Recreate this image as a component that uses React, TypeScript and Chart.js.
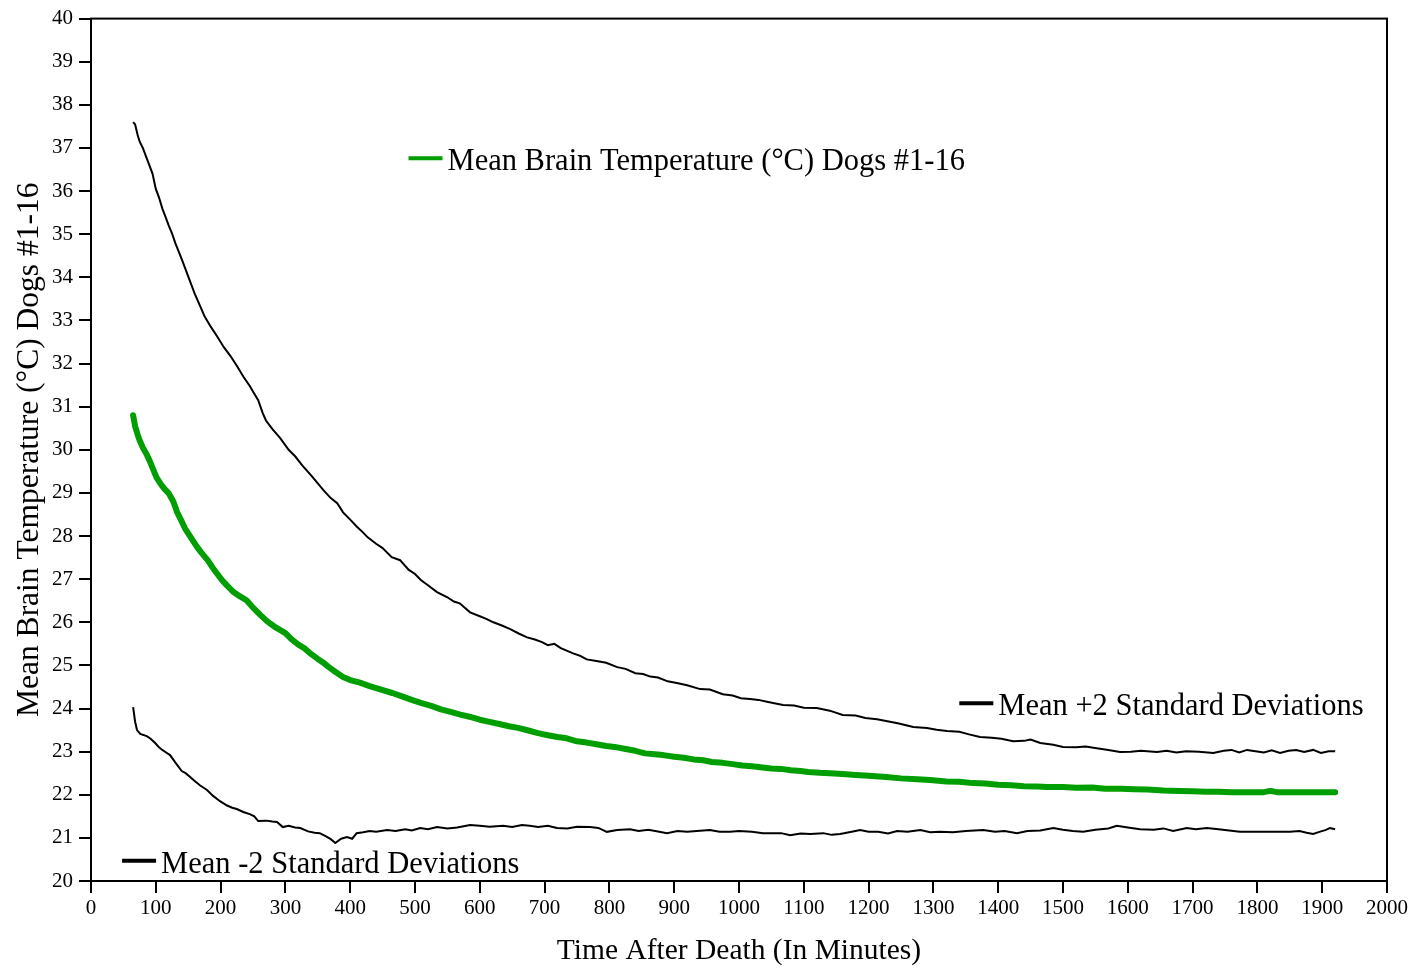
import React, { useEffect, useRef } from "react";
import { Chart, registerables } from "chart.js";

Chart.register(...registerables);

// ---- Data ----
const xTicks = [0, 2000]; // x-axis range (min, max), step 100
const yTicks = [20, 40]; // y-axis range (min, max), step 1

const timeUpper = [65,68,72,75,80,85,90,95,100,105,110,115,120,125,130,140,150,160,170,175,185,195,205,215,225,235,245,252,258,265,270,280,292,305,315,326,340,350,359,370,380,389,400,410,420,427,440,450,464,477,490,500,509,520,534,550,560,569,585,600,610,621,635,647,660,673,685,696,705,715,725,744,755,765,780,795,812,825,840,852,863,875,890,904,920,940,955,975,990,1003,1017,1030,1045,1068,1085,1100,1120,1140,1160,1180,1195,1213,1227,1245,1269,1290,1305,1321,1340,1355,1372,1390,1405,1423,1440,1450,1465,1485,1500,1520,1535,1552,1570,1588,1605,1620,1645,1660,1675,1690,1710,1732,1748,1760,1772,1784,1797,1810,1822,1835,1848,1860,1872,1886,1898,1910,1920];
const upperTemp = [37.6,37.55,37.3,37.15,37.0,36.8,36.6,36.4,36.05,35.85,35.6,35.4,35.2,35.02,34.8,34.42,34.02,33.62,33.28,33.1,32.85,32.62,32.38,32.18,31.95,31.7,31.48,31.3,31.15,30.85,30.68,30.48,30.27,30.0,29.85,29.64,29.4,29.22,29.06,28.88,28.76,28.55,28.38,28.22,28.08,27.97,27.82,27.72,27.51,27.44,27.22,27.12,26.98,26.86,26.7,26.58,26.48,26.44,26.23,26.14,26.08,26.0,25.92,25.84,25.74,25.65,25.6,25.54,25.47,25.5,25.4,25.28,25.22,25.14,25.1,25.06,24.96,24.92,24.82,24.8,24.74,24.72,24.63,24.59,24.54,24.45,24.44,24.33,24.3,24.24,24.22,24.2,24.15,24.08,24.07,24.02,24.01,23.95,23.85,23.84,23.78,23.75,23.71,23.66,23.57,23.55,23.51,23.48,23.46,23.4,23.34,23.32,23.3,23.24,23.25,23.28,23.2,23.16,23.11,23.1,23.12,23.08,23.04,22.99,23.0,23.02,22.99,23.02,22.98,23.01,23.0,22.97,23.02,23.04,22.98,23.04,23.01,22.98,23.03,22.97,23.02,23.04,22.99,23.04,22.97,23.01,23.01];

const timeMean = [65,68,72,75,80,85,90,95,101,107,113,120,127,133,139,145,151,157,163,170,180,188,195,202,210,220,230,240,250,262,272,285,300,310,320,329,340,350,358,367,378,389,400,415,430,449,465,480,495,509,525,540,555,570,584,600,615,630,645,659,675,690,705,720,734,750,765,780,795,808,825,840,855,870,883,900,915,930,945,958,975,990,1005,1020,1033,1050,1065,1080,1095,1107,1125,1140,1160,1180,1200,1227,1250,1275,1295,1320,1340,1361,1380,1400,1420,1440,1460,1475,1500,1520,1545,1565,1590,1610,1630,1655,1681,1700,1720,1740,1760,1784,1810,1820,1830,1860,1890,1920];
const meanTemp = [30.8,30.55,30.35,30.22,30.05,29.92,29.76,29.58,29.36,29.22,29.1,28.99,28.8,28.55,28.37,28.18,28.04,27.9,27.76,27.62,27.44,27.26,27.12,26.98,26.85,26.7,26.6,26.51,26.34,26.16,26.02,25.88,25.75,25.6,25.48,25.4,25.26,25.15,25.07,24.96,24.84,24.73,24.66,24.6,24.52,24.43,24.36,24.28,24.2,24.13,24.06,23.98,23.92,23.86,23.81,23.74,23.69,23.64,23.59,23.55,23.49,23.43,23.38,23.34,23.31,23.24,23.21,23.17,23.13,23.11,23.06,23.02,22.96,22.94,22.92,22.88,22.86,22.82,22.8,22.76,22.74,22.71,22.68,22.66,22.64,22.61,22.6,22.57,22.55,22.53,22.51,22.5,22.48,22.46,22.44,22.41,22.38,22.36,22.34,22.31,22.3,22.27,22.26,22.23,22.22,22.2,22.19,22.18,22.18,22.16,22.17,22.14,22.14,22.13,22.12,22.1,22.09,22.08,22.07,22.07,22.06,22.06,22.06,22.09,22.06,22.06,22.06,22.06];

const timeLower = [65,68,71,76,86,92,99,105,110,116,122,130,140,146,153,160,168,179,188,199,210,218,225,235,245,252,258,270,280,287,296,305,315,323,335,345,353,362,370,377,386,395,403,410,420,430,440,457,470,485,495,508,520,534,550,565,585,600,615,636,650,665,677,690,705,719,735,750,770,783,796,812,832,845,860,875,889,905,920,935,955,970,986,1000,1020,1037,1050,1065,1079,1095,1110,1130,1143,1156,1170,1187,1200,1215,1230,1244,1260,1280,1295,1310,1330,1350,1377,1395,1410,1429,1445,1465,1485,1500,1515,1531,1550,1570,1583,1600,1619,1640,1655,1670,1691,1705,1722,1740,1773,1799,1830,1850,1865,1876,1886,1898,1905,1912,1920];
const lowerTemp = [24.03,23.7,23.5,23.41,23.36,23.3,23.2,23.1,23.04,22.98,22.92,22.75,22.55,22.5,22.41,22.32,22.22,22.11,21.98,21.85,21.75,21.7,21.67,21.6,21.55,21.5,21.39,21.4,21.38,21.37,21.25,21.28,21.24,21.23,21.15,21.12,21.11,21.04,20.97,20.88,20.98,21.02,20.98,21.11,21.13,21.16,21.14,21.18,21.16,21.2,21.17,21.23,21.2,21.25,21.22,21.24,21.3,21.28,21.26,21.28,21.25,21.3,21.28,21.25,21.28,21.23,21.22,21.26,21.25,21.23,21.14,21.18,21.2,21.16,21.19,21.15,21.11,21.16,21.14,21.16,21.18,21.14,21.14,21.16,21.14,21.11,21.11,21.11,21.06,21.1,21.09,21.11,21.07,21.09,21.13,21.18,21.14,21.14,21.1,21.16,21.14,21.18,21.13,21.14,21.13,21.16,21.18,21.14,21.16,21.11,21.16,21.17,21.23,21.19,21.16,21.14,21.19,21.22,21.28,21.24,21.2,21.19,21.22,21.16,21.23,21.2,21.23,21.2,21.14,21.14,21.14,21.14,21.16,21.12,21.09,21.15,21.18,21.23,21.2];

const seriesNames = [
  "Mean Brain Temperature (°C) Dogs #1-16",
  "Mean +2 Standard Deviations",
  "Mean -2 Standard Deviations",
];
const xTitle = "Time After Death (In Minutes)";
const yTitle = "Mean Brain Temperature (°C) Dogs #1-16";

const GREEN = "#009e00";
const SERIF = '"Liberation Serif", "Times New Roman", serif';

const toPoints = (xs: number[], ys: number[]) => xs.map((x, i) => ({ x, y: ys[i] }));

// Legend entries placed inside the plot (anchored at data coordinates)
const legendAnchors = [
  { name: seriesNames[0], color: GREEN, lx: 490, ly: 36.76 },
  { name: seriesNames[1], color: "#000", lx: 1340, ly: 24.12 },
  { name: seriesNames[2], color: "#000", lx: 48, ly: 20.47 },
];

const framePlugin = {
  id: "frameAndLegend",
  afterDraw(chart: any) {
    const { ctx, chartArea, scales } = chart;
    ctx.save();
    ctx.strokeStyle = "#000";
    ctx.lineWidth = 2;
    ctx.strokeRect(chartArea.left, chartArea.top, chartArea.right - chartArea.left, chartArea.bottom - chartArea.top);
    ctx.font = `30.5px ${SERIF}`;
    ctx.textBaseline = "alphabetic";
    ctx.textAlign = "left";
    for (const a of legendAnchors) {
      const px = scales.x.getPixelForValue(a.lx);
      const py = scales.y.getPixelForValue(a.ly);
      ctx.strokeStyle = a.color;
      ctx.lineWidth = 4;
      ctx.beginPath();
      ctx.moveTo(px, py);
      ctx.lineTo(px + 34, py);
      ctx.stroke();
      ctx.fillStyle = "#000";
      ctx.fillText(a.name, px + 39, py + 12);
    }
    ctx.restore();
  },
};

export default function App() {
  const ref = useRef<HTMLCanvasElement | null>(null);
  useEffect(() => {
    if (!ref.current) return;
    const chart = new Chart(ref.current, {
      type: "line",
      data: {
        datasets: [
          {
            label: seriesNames[1],
            data: toPoints(timeUpper, upperTemp),
            borderColor: "#000",
            borderWidth: 2,
            pointRadius: 0,
            tension: 0,
          },
          {
            label: seriesNames[2],
            data: toPoints(timeLower, lowerTemp),
            borderColor: "#000",
            borderWidth: 2,
            pointRadius: 0,
            tension: 0,
          },
          {
            label: seriesNames[0],
            data: toPoints(timeMean, meanTemp),
            borderColor: GREEN,
            borderWidth: 6,
            borderCapStyle: "round",
            borderJoinStyle: "round",
            pointRadius: 0,
            tension: 0,
          },
        ],
      },
      options: {
        animation: false,
        responsive: false,
        maintainAspectRatio: false,
        layout: { padding: { top: 18, right: 25, left: 0, bottom: 0 } },
        plugins: { legend: { display: false }, tooltip: { enabled: false } },
        scales: {
          x: {
            type: "linear",
            min: xTicks[0],
            max: xTicks[1],
            afterFit: (s: any) => {
              s.height = 90;
            },
            ticks: {
              stepSize: 100,
              color: "#000",
              padding: 3,
              font: { family: SERIF, size: 21 },
              maxRotation: 0,
              autoSkip: false,
              callback: (v: any) => String(v),
            },
            grid: { display: true, drawOnChartArea: false, drawTicks: true, tickLength: 12, color: "#000", lineWidth: 2 },
            border: { display: false },
            title: { display: true, text: xTitle, color: "#000", font: { family: SERIF, size: 29.5 }, padding: { top: 0, bottom: 2 } },
          },
          y: {
            type: "linear",
            min: yTicks[0],
            max: yTicks[1],
            afterFit: (s: any) => {
              s.width = 91;
            },
            ticks: { stepSize: 1, color: "#000", padding: 6, font: { family: SERIF, size: 21 }, autoSkip: false, callback: (v: any) => String(v) },
            grid: { display: true, drawOnChartArea: false, drawTicks: true, tickLength: 12, color: "#000", lineWidth: 2 },
            border: { display: false },
            title: { display: true, text: yTitle, color: "#000", font: { family: SERIF, size: 31.5 }, padding: { top: 11, bottom: 0 } },
          },
        },
      },
      plugins: [framePlugin],
    } as any);
    return () => chart.destroy();
  }, []);
  return (
    <div style={{ position: "fixed", left: 0, top: 0, width: 1412, height: 971, background: "#fff" }}>
      <canvas ref={ref} width={1412} height={971} />
    </div>
  );
}
